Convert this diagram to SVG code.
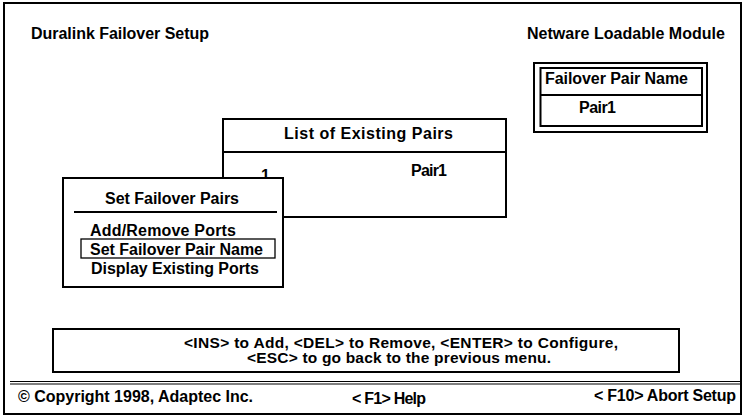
<svg xmlns="http://www.w3.org/2000/svg" width="743" height="416" viewBox="0 0 743 416">
<style>
text{font-family:"Liberation Sans",Arial,Helvetica,sans-serif;font-weight:bold;fill:#000;}
.t16{font-size:16px;}
.t15{font-size:16px;}
.t14{font-size:15.5px;}
.box{fill:#fff;stroke:#000;stroke-width:2;}
.ln{stroke:#000;stroke-width:2;fill:none;}
.thin{stroke:#000;stroke-width:1.3;fill:none;}
</style>
<rect x="0" y="0" width="743" height="416" fill="#fff"/>
<g id="frame">
<rect x="4" y="3" width="737" height="411" class="ln"/>
</g>
<g id="header">
<text class="t16" x="31" y="39" textLength="178">Duralink Failover Setup</text>
<text class="t16" x="527" y="39" textLength="198">Netware Loadable Module</text>
</g>
<g id="failover-pair-name">
<rect x="534" y="63" width="173" height="69" class="box"/>
<rect x="540.5" y="68" width="161.5" height="58" class="ln"/>
<line x1="540" y1="95" x2="702" y2="95" class="ln"/>
<text class="t15" x="545" y="84" textLength="143">Failover Pair Name</text>
<text class="t15" x="579" y="113" textLength="37">Pair1</text>
</g>
<g id="list-existing-pairs">
<rect x="223" y="119" width="283" height="98" class="box"/>
<line x1="223" y1="152" x2="506" y2="152" class="ln"/>
<text class="t15" x="284" y="139" textLength="169">List of Existing Pairs</text>
<text class="t15" x="261" y="181">1</text>
<text class="t15" x="411" y="176" textLength="36">Pair1</text>
</g>
<g id="set-failover-pairs">
<rect x="63" y="178" width="220" height="109" class="box"/>
<line x1="74" y1="212" x2="277" y2="212" class="ln"/>
<text class="t15" x="105" y="204" textLength="134">Set Failover Pairs</text>
<text class="t15" x="90" y="236" textLength="146">Add/Remove Ports</text>
<rect x="81" y="239" width="194" height="19" class="thin"/>
<text class="t15" x="90" y="254.5" textLength="173">Set Failover Pair Name</text>
<text class="t15" x="91" y="273.5" textLength="168">Display Existing Ports</text>
</g>
<g id="help-box">
<rect x="53" y="329" width="626" height="43" class="box"/>
<text class="t14" x="184" y="347.5" textLength="434">&lt;INS&gt; to Add, &lt;DEL&gt; to Remove, &lt;ENTER&gt; to Configure,</text>
<text class="t14" x="247" y="363" textLength="304">&lt;ESC&gt; to go back to the previous menu.</text>
</g>
<g id="status-bar">
<line x1="10" y1="381.5" x2="741" y2="381.5" stroke="#000" stroke-width="1.2"/>
<line x1="10" y1="384" x2="741" y2="384" stroke="#000" stroke-width="1.2"/>
<text class="t16" x="18" y="402" textLength="235">© Copyright 1998, Adaptec Inc.</text>
<text class="t16" x="352" y="404" textLength="74">&lt; F1&gt; Help</text>
<text class="t16" x="594" y="401" textLength="142">&lt; F10&gt; Abort Setup</text>
</g>
<g id="connectors"></g>
</svg>
